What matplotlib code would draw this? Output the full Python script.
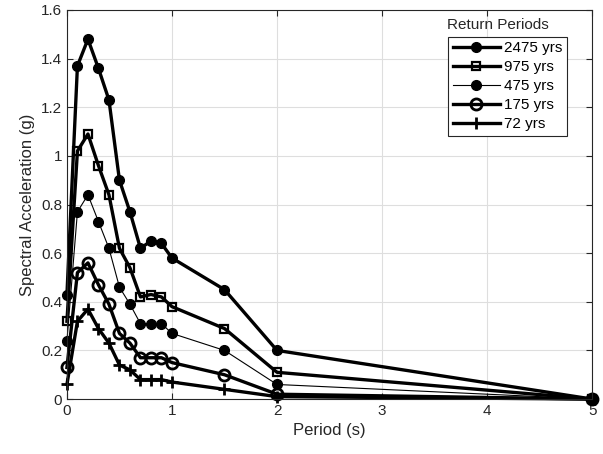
import numpy as np
import matplotlib
matplotlib.use("Agg")
import matplotlib.pyplot as plt
from matplotlib.ticker import FormatStrFormatter

plt.rcParams['font.family'] = ['Liberation Sans', 'DejaVu Sans']

# periods (s)
period = [0, 0.1, 0.2, 0.3, 0.4, 0.5, 0.6, 0.7, 0.8, 0.9, 1.0, 1.5, 2.0, 5.0]

# spectral acceleration (g) per return period
sa_2475 = [0.43, 1.37, 1.48, 1.36, 1.23, 0.90, 0.77, 0.62, 0.65, 0.64, 0.58, 0.45, 0.20, 0.0]
sa_975 = [0.32, 1.02, 1.09, 0.96, 0.84, 0.62, 0.54, 0.42, 0.43, 0.42, 0.38, 0.29, 0.11, 0.0]
sa_475 = [0.24, 0.77, 0.84, 0.73, 0.62, 0.46, 0.39, 0.31, 0.31, 0.31, 0.27, 0.20, 0.06, 0.0]
sa_175 = [0.13, 0.52, 0.56, 0.47, 0.39, 0.27, 0.23, 0.17, 0.17, 0.17, 0.15, 0.10, 0.02, 0.0]
sa_72 = [0.06, 0.32, 0.37, 0.29, 0.23, 0.14, 0.12, 0.08, 0.08, 0.08, 0.07, 0.04, 0.01, 0.0]

labels = ['2475 yrs', '975 yrs', '475 yrs', '175 yrs', '72 yrs']

fig = plt.figure(figsize=(6.03, 4.54), dpi=100)
ax = fig.add_axes([0.111, 0.121, 0.871, 0.857])

ax.plot(period, sa_2475, '-o', color='black', lw=2.4, ms=7, label=labels[0], clip_on=False)
ax.plot(period, sa_975, '-s', color='black', lw=2.4, ms=6, mfc='none', mew=1.6, label=labels[1], clip_on=False)
ax.plot(period, sa_475, '-o', color='black', lw=0.8, ms=7, label=labels[2], clip_on=False)
ax.plot(period, sa_175, '-o', color='black', lw=2.4, ms=8, mfc='none', mew=2.0, label=labels[3], clip_on=False)
ax.plot(period, sa_72, '-+', color='black', lw=2.4, ms=8, mew=2.0, label=labels[4], clip_on=False)

ax.set_xlim(0, 5)
ax.set_ylim(0, 1.6)
ax.set_xticks(np.arange(0, 6, 1))
ax.set_yticks(np.arange(0, 1.61, 0.2))
ax.yaxis.set_major_formatter(FormatStrFormatter('%g'))
ax.grid(True, color='#dedede', lw=0.8)
ax.set_axisbelow(True)
ax.tick_params(direction='in', top=True, right=True, labelsize=11, length=4,
               color='#262626', labelcolor='#262626')
for s in ax.spines.values():
    s.set_color('#262626')
    s.set_linewidth(0.8)

ax.set_xlabel('Period (s)', fontsize=12, color='#262626')
ax.set_ylabel('Spectral Acceleration (g)', fontsize=12, color='#262626')

leg = ax.legend(loc='upper right', bbox_to_anchor=(0.952, 0.931), borderaxespad=0,
                fontsize=11, frameon=True, fancybox=False, handlelength=3.1,
                borderpad=0.3, labelspacing=0.32, handletextpad=0.25)
leg.get_frame().set_edgecolor('#262626')
leg.get_frame().set_linewidth(0.8)
leg.get_frame().set_alpha(1)
ax.text(0.82, 0.962, 'Return Periods', transform=ax.transAxes, ha='center',
        va='center', fontsize=11, color='#262626')

fig.savefig('out.png', dpi=100)
